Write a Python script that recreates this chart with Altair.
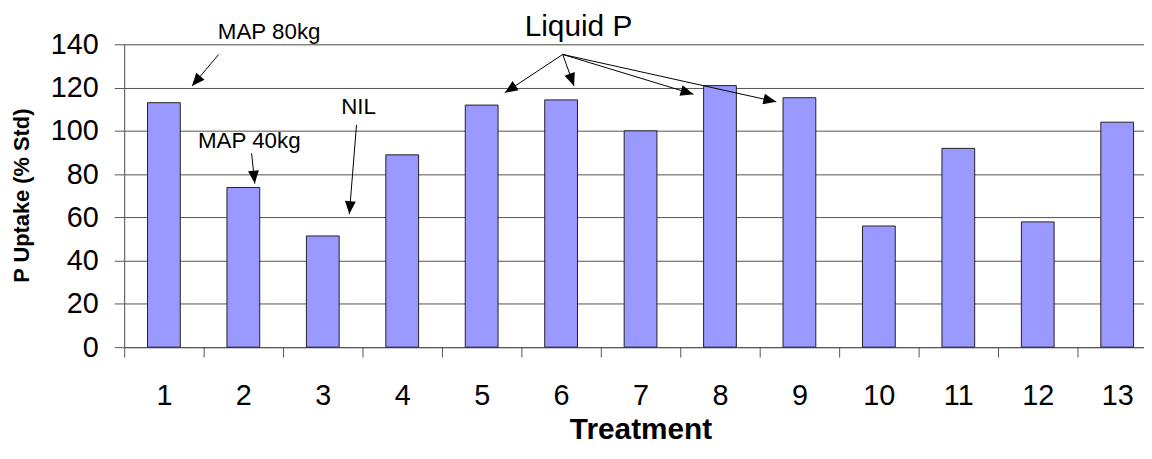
import altair as alt
import pandas as pd
import numpy as np

# ---- data ----
treatments = [str(i) for i in range(1, 14)]
uptake = [113.0, 73.8, 51.4, 88.9, 111.9, 114.3, 100.0, 120.9, 115.3, 56.0, 91.9, 57.9, 104.0]
y_ticks = [0, 20, 40, 60, 80, 100, 120, 140]

# annotation labels (x in treatment units, y in % Std units)
note_text = ["MAP 80kg", "MAP 40kg", "NIL", "Liquid P"]
note_x = [2.325, 2.075, 3.45, 6.219]
note_y = [142.6, 91.9, 108.0, 143.7]
note_size = [22.5, 22.5, 22.5, 30]

# arrows: start -> tip (treatment units, % Std units)
arr_x1 = [1.69, 2.104, 3.425, 6.021, 6.021, 6.021, 6.021]
arr_y1 = [135.3, 89.6, 102.8, 135.3, 135.3, 135.3, 135.3]
arr_x2 = [1.354, 2.144, 3.334, 5.291, 6.1625, 7.666, 8.709]
arr_y2 = [120.7, 75.6, 61.5, 117.6, 120.7, 116.9, 113.4]

W, H = 1040, 305
YMAX = 140
FONT = "Liberation Sans"

bars_df = pd.DataFrame({"Treatment": treatments, "Uptake": uptake})
notes_df = pd.DataFrame({"t": note_text, "x": note_x, "y": note_y, "fs": note_size})
arr_df = pd.DataFrame({"x1": arr_x1, "y1": arr_y1, "x2": arr_x2, "y2": arr_y2})
px_x = W / 13.0
px_y = H / YMAX
dx = (arr_df["x2"] - arr_df["x1"]) * px_x
dy = -(arr_df["y2"] - arr_df["y1"]) * px_y
arr_df["ang"] = np.mod(np.degrees(np.arctan2(dx, -dy)), 360)

yscale = alt.Scale(domain=[0, YMAX], nice=False, zero=True)

bars = alt.Chart(bars_df).mark_bar(
    width=33, color="#9999FF", stroke="#222222", strokeWidth=1
).encode(
    x=alt.X(
        "Treatment:N",
        sort=treatments,
        scale=alt.Scale(paddingInner=0, paddingOuter=0),
        axis=alt.Axis(
            title="Treatment",
            labelAngle=0,
            tickBand="extent",
            tickSize=10,
            labelPadding=25,
            labelFontSize=29,
            titleFontSize=30,
            titleFontWeight="bold",
            titleBaseline="alphabetic",
            titleX=520,
            titleY=92,
            titleAnchor="middle",
            domainColor="#555555",
            tickColor="#555555",
            labelColor="black",
            titleColor="black",
            labelFont=FONT,
            titleFont=FONT,
            grid=False,
        ),
    ),
    y=alt.Y(
        "Uptake:Q",
        scale=yscale,
        axis=alt.Axis(
            title="P Uptake (% Std)",
            values=y_ticks,
            tickSize=10,
            labelPadding=16,
            labelFontSize=29,
            titleFontSize=22,
            titleFontWeight="bold",
            titleBaseline="alphabetic",
            titleX=-96,
            titleY=152,
            titleAngle=270,
            titleAlign="center",
            domainColor="#555555",
            tickColor="#555555",
            gridColor="#555555",
            gridWidth=1,
            labelColor="black",
            titleColor="black",
            labelFont=FONT,
            titleFont=FONT,
        ),
    ),
)

xq = alt.Scale(domain=[0.5, 13.5], nice=False, zero=False)

rules = alt.Chart(arr_df).mark_rule(color="black", strokeWidth=1).encode(
    x=alt.X("x1:Q", scale=xq, axis=None),
    x2="x2:Q",
    y=alt.Y("y1:Q", scale=yscale),
    y2="y2:Q",
)

heads = alt.Chart(arr_df).mark_point(
    shape="M0,0L-0.42,1L0.42,1Z", filled=True, color="black", opacity=1, size=676, strokeWidth=0
).encode(
    x=alt.X("x2:Q", scale=xq, axis=None),
    y=alt.Y("y2:Q", scale=yscale),
    angle=alt.Angle("ang:Q", scale=None),
)

texts = alt.Chart(notes_df).mark_text(
    align="center", baseline="alphabetic", font=FONT, color="black"
).encode(
    x=alt.X("x:Q", scale=xq, axis=None),
    y=alt.Y("y:Q", scale=yscale),
    text="t:N",
    size=alt.Size("fs:Q", scale=None, legend=None),
)

chart = alt.layer(bars, rules, heads, texts).resolve_scale(x="independent").properties(
    width=W,
    height=H,
    autosize=alt.AutoSizeParams(type="none"),
    padding={"left": 117, "top": 35, "right": -13, "bottom": 100},
).configure_view(stroke=None).configure(background="white")

chart.save("out.html", embed_options={"renderer": "svg", "actions": False})
